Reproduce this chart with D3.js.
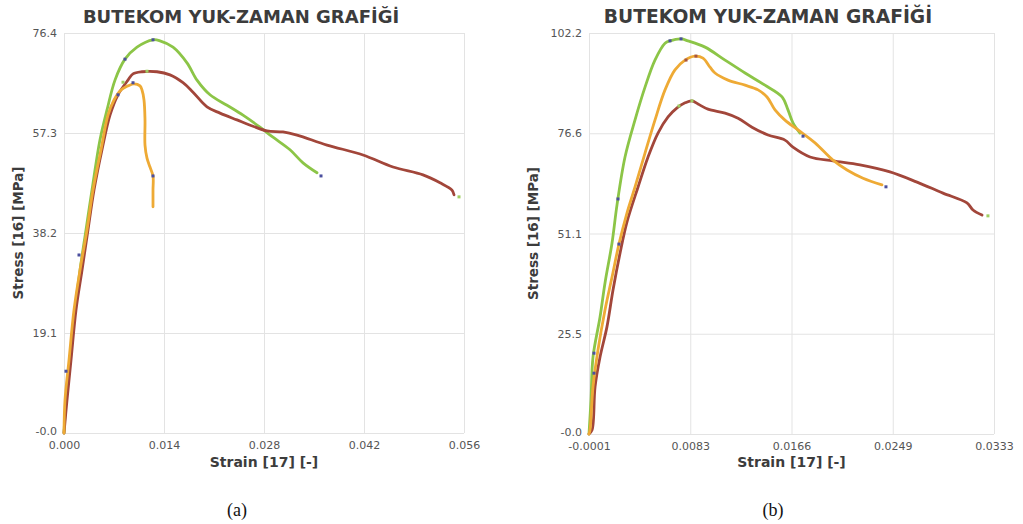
<!DOCTYPE html>
<html>
<head>
<meta charset="utf-8">
<script src="https://cdn.jsdelivr.net/npm/d3@7"></script>
<style>
  html, body { margin: 0; padding: 0; background: #fff; }
  svg { display: block; }
</style>
</head>
<body>
<svg id="chart" width="1023" height="524"></svg>
<script>
// ---- Shared text ----
const chartTitle = "BUTEKOM YUK-ZAMAN GRAFİĞİ";
const xAxisTitle = "Strain [17] [-]";
const yAxisTitle = "Stress [16] [MPa]";
const captions = ["(a)", "(b)"];

// ---- Panel (a): tick labels and domains ----
const aXDomain = [0, 0.056];
const aYDomain = [0, 76.4];
const aXTickLabels = ["0.000", "0.014", "0.028", "0.042", "0.056"];
const aYTickLabels = ["-0.0", "19.1", "38.2", "57.3", "76.4"];

// Panel (a) curves, [strain, stress MPa]
const aGreen = [
  [0, 0], [0.00028, 6.3], [0.00084, 13.8], [0.00154, 23.5], [0.00224, 31.1],
  [0.00308, 38.8], [0.00392, 46.4], [0.00504, 56.0], [0.00602, 61.7], [0.00714, 67.4],
  [0.00854, 71.4], [0.01022, 73.7], [0.01246, 75.1], [0.01344, 74.9], [0.01526, 73.7],
  [0.01722, 70.7], [0.01862, 67.4], [0.02044, 64.6], [0.02282, 62.6], [0.02506, 60.7],
  [0.02744, 58.4], [0.02926, 56.5], [0.03164, 54.1], [0.03346, 51.6], [0.03542, 49.7]
];
const aBrown = [
  [0, 0], [0.00042, 6.3], [0.00098, 13.9], [0.00168, 23.5], [0.00252, 31.1],
  [0.00336, 38.8], [0.0042, 46.4], [0.00532, 54.1], [0.00644, 60.7], [0.00756, 64.6],
  [0.00896, 67.4], [0.00966, 68.6], [0.01092, 69.0], [0.01302, 69.0], [0.01484, 68.4],
  [0.01666, 66.9], [0.01806, 65.1], [0.02002, 62.3], [0.02184, 61.1], [0.02422, 59.8],
  [0.02646, 58.6], [0.02842, 57.7], [0.03066, 57.5], [0.03262, 56.9], [0.03682, 55.0],
  [0.04186, 53.1], [0.04606, 50.8], [0.05026, 49.3], [0.05264, 47.8], [0.05432, 46.4],
  [0.0546, 45.5]
];
const aOrange = [
  [0, 0], [0.00014, 6.3], [0.0007, 13.9], [0.0014, 23.5], [0.00224, 31.1],
  [0.00322, 38.8], [0.00406, 46.4], [0.00518, 54.1], [0.00616, 60.7], [0.007, 63.6],
  [0.00798, 65.5], [0.00896, 66.3], [0.0098, 66.7], [0.01064, 66.3], [0.01092, 65.5],
  [0.0112, 63.6], [0.01134, 59.8], [0.01134, 55.0], [0.01162, 52.5], [0.01204, 50.8],
  [0.01246, 49.1], [0.01246, 46.4], [0.01246, 43.2]
];
// Event markers on the curves: [strain, stress, kind]
const aMarkers = [
  [0.00028, 11.8, "navy"], [0.0021, 34.0, "navy"], [0.00756, 64.6, "navy"],
  [0.00826, 67.0, "lime"], [0.00966, 66.9, "navy"], [0.00854, 71.4, "navy"],
  [0.01246, 75.1, "navy"], [0.01162, 69.1, "lime"], [0.01246, 49.1, "navy"],
  [0.03598, 49.1, "navy"], [0.0553, 45.1, "lime"]
];

// ---- Panel (b): tick labels and domains ----
const bXDomain = [-0.0001, 0.0333];
const bYDomain = [0, 102.2];
const bXTickLabels = ["-0.0001", "0.0083", "0.0166", "0.0249", "0.0333"];
const bYTickLabels = ["-0.0", "25.5", "51.1", "76.6", "102.2"];

const bGreen = [
  [-0.0001, 0], [0.000065, 8.7], [0.00023, 19.6], [0.00081, 29.8], [0.00122, 38.5],
  [0.0018, 48.7], [0.00221, 58.4], [0.00287, 70.6], [0.00369, 80.0], [0.00452, 88.4],
  [0.00534, 95.3], [0.00617, 99.6], [0.00658, 100.2], [0.00749, 100.7], [0.00806, 100.2],
  [0.00947, 98.6], [0.01112, 95.3], [0.01277, 92.0], [0.01441, 88.9], [0.01582, 85.9],
  [0.01631, 82.6], [0.01672, 79.3], [0.0173, 76.7]
];
const bBrown = [
  [-0.0001, 0], [0.00015, 1.0], [0.0004, 12.0], [0.00081, 19.6], [0.00138, 27.3],
  [0.00188, 36.7], [0.00246, 46.1], [0.00303, 54.0], [0.00394, 62.9], [0.00477, 70.6],
  [0.00559, 76.7], [0.00642, 80.8], [0.00716, 83.1], [0.00782, 84.4], [0.00839, 84.9],
  [0.00889, 84.1], [0.00971, 82.8], [0.01112, 81.8], [0.01219, 80.5], [0.01334, 78.2],
  [0.01466, 76.2], [0.01606, 74.9], [0.01672, 73.1], [0.01813, 70.6], [0.02002, 69.6],
  [0.02225, 68.6], [0.02472, 66.8], [0.02695, 64.2], [0.02909, 61.4], [0.03107, 58.9],
  [0.03157, 57.1], [0.03231, 55.8]
];
const bOrange = [
  [-0.0001, 0], [-0.000018, 1.0], [0.00023, 12.0], [0.00064, 21.4], [0.00122, 31.6],
  [0.0018, 40.0], [0.00237, 48.4], [0.00303, 56.3], [0.00369, 62.9], [0.00452, 71.6],
  [0.00534, 80.0], [0.00617, 87.7], [0.00699, 92.8], [0.00782, 95.3], [0.00864, 96.3],
  [0.0093, 95.8], [0.00988, 93.5], [0.01029, 92.0], [0.01136, 90.2], [0.01277, 88.9],
  [0.01384, 87.7], [0.01458, 85.9], [0.01524, 82.6], [0.01606, 80.0], [0.01714, 77.5],
  [0.01854, 74.2], [0.02002, 69.8], [0.02118, 67.3], [0.0225, 65.2], [0.02406, 63.5]
];
const bMarkers = [
  [0.00031, 20.6, "navy"], [0.00031, 15.5, "navy"], [0.00229, 59.9, "navy"],
  [0.00237, 48.4, "navy"], [0.00658, 100.2, "navy"], [0.00749, 100.7, "navy"],
  [0.0079, 95.3, "rust"], [0.00872, 96.3, "rust"], [0.00732, 83.6, "lime"],
  [0.00839, 84.9, "lime"], [0.01755, 75.9, "navy"], [0.02439, 63.0, "navy"],
  [0.0328, 55.6, "lime"]
];

// ---- Styles ----
const lineColors = { green: "#8cc547", brown: "#a2463a", orange: "#eeaa35" };
const markerColors = { navy: "#4b4f9e", lime: "#9fcf62", rust: "#a9553f" };
const gridColor = "#e3e3e3";
const tickColor = "#555";
const titleColor = "#3c3c3c";

const svg = d3.select("#chart");

function drawPanel(cfg) {
  const x = d3.scaleLinear().domain(cfg.xDomain).range([cfg.left, cfg.right]);
  const y = d3.scaleLinear().domain(cfg.yDomain).range([cfg.bottom, cfg.top]);
  const g = svg.append("g");

  const xTicks = cfg.xLabels.map((_, i) =>
    cfg.xDomain[0] + i * (cfg.xDomain[1] - cfg.xDomain[0]) / (cfg.xLabels.length - 1));
  const yTicks = cfg.yLabels.map((_, i) =>
    cfg.yDomain[0] + i * (cfg.yDomain[1] - cfg.yDomain[0]) / (cfg.yLabels.length - 1));

  // Grid and tick labels
  const xAxis = d3.axisBottom(x).tickValues(xTicks)
    .tickSize(-(cfg.bottom - cfg.top)).tickPadding(8)
    .tickFormat((d, i) => cfg.xLabels[i]);
  const yAxis = d3.axisLeft(y).tickValues(yTicks)
    .tickSize(-(cfg.right - cfg.left)).tickPadding(7)
    .tickFormat((d, i) => cfg.yLabels[i]);

  const gx = g.append("g").attr("transform", `translate(0,${cfg.bottom})`).call(xAxis);
  const gy = g.append("g").attr("transform", `translate(${cfg.left},0)`).call(yAxis);
  [gx, gy].forEach(a => {
    a.select(".domain").remove();
    a.selectAll(".tick line").attr("stroke", gridColor).attr("stroke-width", 1);
    a.selectAll(".tick text")
      .attr("fill", tickColor)
      .style("font-family", "'DejaVu Sans', Verdana, sans-serif")
      .style("font-size", "11px");
  });
  // lift the bottom y label a little so it clears the first x label
  gy.selectAll(".tick text").filter((d, i) => i === 0).attr("dy", "0.1em");

  // Curves
  const line = d3.line()
    .x(d => x(d[0])).y(d => y(d[1]))
    .curve(d3.curveCatmullRom.alpha(0.5));
  cfg.series.forEach(s => {
    g.append("path")
      .datum(s.data)
      .attr("fill", "none")
      .attr("stroke", lineColors[s.color])
      .attr("stroke-width", 2.8)
      .attr("stroke-linejoin", "round")
      .attr("stroke-linecap", "round")
      .attr("d", line);
  });

  // Event markers
  g.selectAll("rect.marker")
    .data(cfg.markers)
    .join("rect")
    .attr("class", "marker")
    .attr("x", d => x(d[0]) - 1.5)
    .attr("y", d => y(d[1]) - 1.5)
    .attr("width", 3)
    .attr("height", 3)
    .attr("fill", d => markerColors[d[2]]);

  // Titles
  g.append("text")
    .attr("x", cfg.titleX).attr("y", 23)
    .attr("text-anchor", "middle")
    .attr("fill", titleColor)
    .style("font-family", "'DejaVu Sans', Verdana, sans-serif")
    .style("font-weight", "bold")
    .style("font-size", cfg.titleSize + "px")
    .text(chartTitle);

  g.append("text")
    .attr("x", (cfg.left + cfg.right) / 2).attr("y", 467)
    .attr("text-anchor", "middle")
    .attr("fill", titleColor)
    .style("font-family", "'DejaVu Sans', Verdana, sans-serif")
    .style("font-weight", "bold")
    .style("font-size", "14px")
    .text(xAxisTitle);

  g.append("text")
    .attr("transform", `translate(${cfg.yTitleX},${(cfg.top + cfg.bottom) / 2}) rotate(-90)`)
    .attr("text-anchor", "middle")
    .attr("fill", titleColor)
    .style("font-family", "'DejaVu Sans', Verdana, sans-serif")
    .style("font-weight", "bold")
    .style("font-size", "13.5px")
    .text(yAxisTitle);

  g.append("text")
    .attr("x", cfg.captionX).attr("y", 516)
    .attr("text-anchor", "middle")
    .attr("fill", "#111")
    .style("font-family", "'Liberation Serif', 'Times New Roman', serif")
    .style("font-size", "18px")
    .text(cfg.caption);
}

drawPanel({
  left: 64, right: 464, top: 33, bottom: 433,
  xDomain: aXDomain, yDomain: aYDomain,
  xLabels: aXTickLabels, yLabels: aYTickLabels,
  series: [
    { data: aGreen, color: "green" },
    { data: aBrown, color: "brown" },
    { data: aOrange, color: "orange" }
  ],
  markers: aMarkers,
  titleX: 241, titleSize: 18, yTitleX: 23, captionX: 237, caption: captions[0]
});

drawPanel({
  left: 589, right: 994, top: 33, bottom: 434,
  xDomain: bXDomain, yDomain: bYDomain,
  xLabels: bXTickLabels, yLabels: bYTickLabels,
  series: [
    { data: bGreen, color: "green" },
    { data: bBrown, color: "brown" },
    { data: bOrange, color: "orange" }
  ],
  markers: bMarkers,
  titleX: 768, titleSize: 18.7, yTitleX: 538, captionX: 773, caption: captions[1]
});
</script>
</body>
</html>
